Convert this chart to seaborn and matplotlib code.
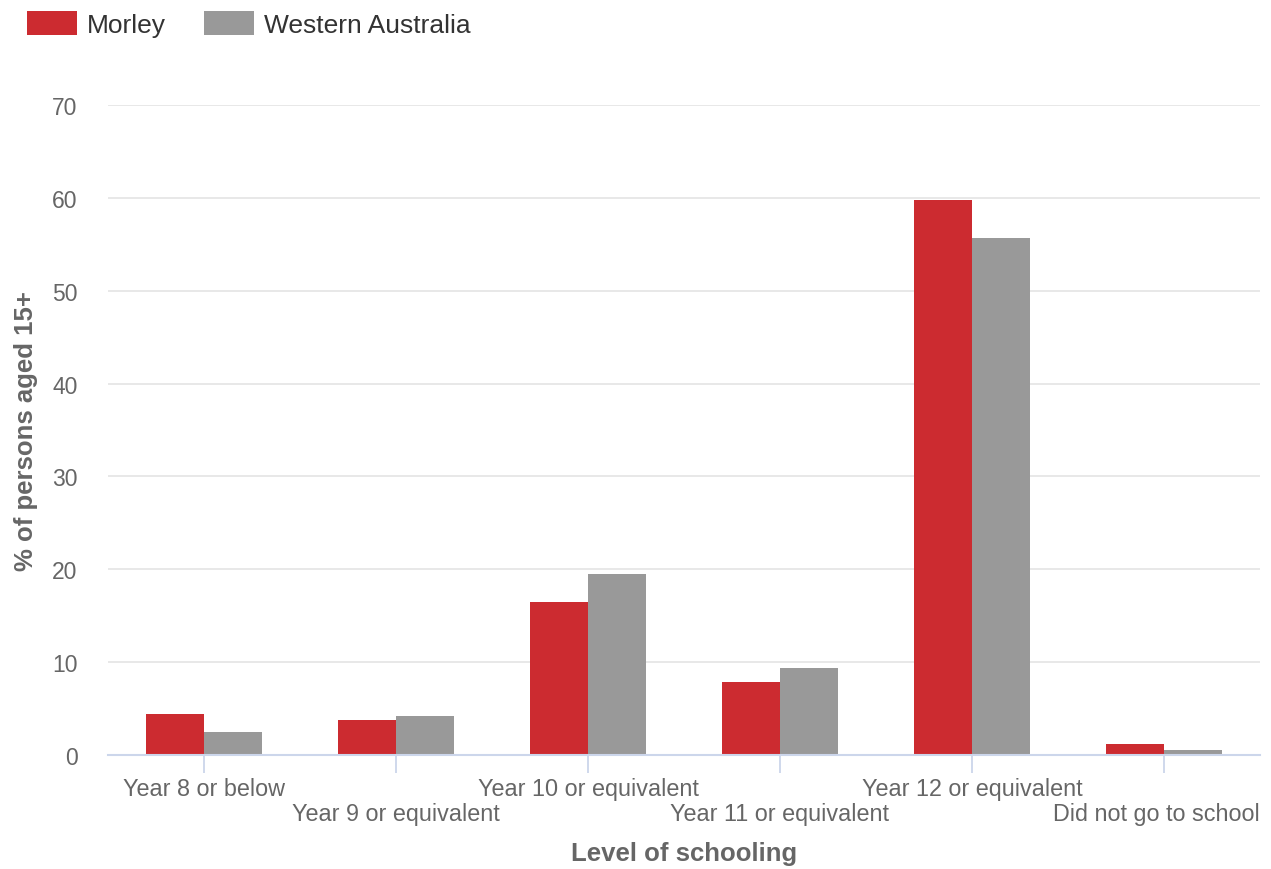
import matplotlib
matplotlib.use("Agg")
import matplotlib.pyplot as plt
import matplotlib.transforms as mtransforms
import seaborn as sns
import pandas as pd

categories = ["Year 8 or below", "Year 9 or equivalent", "Year 10 or equivalent",
              "Year 11 or equivalent", "Year 12 or equivalent", "Did not go to school"]
morley = [4.4, 3.8, 16.5, 7.9, 59.8, 1.2]
western_australia = [2.5, 4.2, 19.5, 9.4, 55.7, 0.5]
series_names = ["Morley", "Western Australia"]
yticks = [0, 10, 20, 30, 40, 50, 60, 70]

df = pd.DataFrame({
    "Level of schooling": categories * 2,
    "value": morley + western_australia,
    "series": [series_names[0]] * len(categories) + [series_names[1]] * len(categories),
})

sns.set_theme(style="white")
plt.rcParams["font.family"] = ["Liberation Sans", "DejaVu Sans"]

W, H = 1271, 870
fig = plt.figure(figsize=(W / 100, H / 100), dpi=100)
ax = fig.add_axes([108 / W, (H - 756) / H, (1260 - 108) / W, (756 - 106) / H])

palette = {"Morley": "#cc2b30", "Western Australia": "#999999"}
sns.barplot(data=df, x="Level of schooling", y="value", hue="series", order=categories,
            hue_order=series_names, palette=palette, width=0.6, gap=0, ax=ax,
            saturation=1, linewidth=0, errorbar=None)

ax.set_ylim(0, 70)
ax.set_xlim(-0.5, len(categories) - 0.5)
ax.set_yticks(yticks)
ax.set_yticklabels([str(v) for v in yticks])
ax.yaxis.grid(True, color="#e6e6e6", linewidth=1.3)
ax.set_axisbelow(True)
for s in ["top", "right", "left"]:
    ax.spines[s].set_visible(False)
ax.spines["bottom"].set_color("#ccd6eb")
ax.spines["bottom"].set_linewidth(1.5)

ax.tick_params(axis="y", left=False, length=0, pad=22, labelsize=16.5, labelcolor="#666666")
ax.tick_params(axis="x", bottom=True, direction="out", length=13, width=1.3, color="#ccd6eb",
               pad=2.5, labelsize=16.8, labelcolor="#666666")
for i, t in enumerate(ax.xaxis.get_major_ticks()):
    if i % 2 == 1:
        t.set_pad(20.5)

# last label nudged left to stay inside the figure, as in the reference
last = ax.get_xticklabels()[-1]
last.set_transform(last.get_transform() + mtransforms.ScaledTranslation(-8 / 100, 0, fig.dpi_scale_trans))

ax.set_xlabel("Level of schooling", fontsize=18.5, fontweight="bold", color="#666666", labelpad=12)
ax.set_ylabel("% of persons aged 15+", fontsize=18.5, fontweight="bold", color="#666666", labelpad=10)

leg = ax.get_legend()
if leg is not None:
    leg.remove()
handles, labels = ax.get_legend_handles_labels()
fig.legend(handles, labels, loc="upper left", bbox_to_anchor=(16 / W, 1 - 1 / H),
           ncol=2, frameon=False, fontsize=19, handlelength=1.9, handleheight=1.05,
           handletextpad=0.38, columnspacing=1.45, labelcolor="#333333", borderaxespad=0)

fig.savefig("out.png", dpi=100)
